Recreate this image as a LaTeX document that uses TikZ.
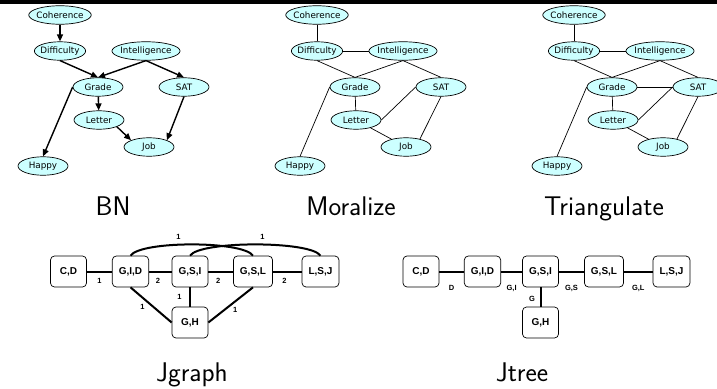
\documentclass[tikz,border=0pt]{standalone}
\usepackage{fontspec}
\usetikzlibrary{shapes.geometric,arrows.meta}

\newfontfamily\bnfont{DejaVu Sans}
\newfontfamily\boxfont{Liberation Sans}
\definecolor{nodecyan}{RGB}{204,255,255}

\tikzset{
  bnvar/.style={ellipse, draw, line width=0.7pt, fill=nodecyan, inner xsep=-1.5pt, inner ysep=0pt,
    minimum width=50pt, minimum height=18.5pt, font=\bnfont\fontsize{8.8}{9}\selectfont},
  bnarc/.style={line width=1.4pt, -{Triangle[length=7pt,width=6pt]}},
  mlink/.style={line width=0.7pt},
  clique/.style={draw, rounded corners=4pt, line width=0.7pt, minimum width=36pt, minimum height=31pt,
    inner xsep=6.5pt, font=\boxfont\bfseries\fontsize{10}{12}\selectfont},
  jlink/.style={line width=2pt},
  wt/.style={font=\boxfont\bfseries\fontsize{7.5}{8}\selectfont, inner sep=1.5pt},
  paneltitle/.style={font=\sffamily\fontsize{27}{30}\selectfont, anchor=base}
}

\begin{document}
\begin{tikzpicture}[x=1pt,y=-1pt]
% Frame
\useasboundingbox (0,0) rectangle (717,388);
\fill[black] (0,0) rectangle (717,3.5);

% Variables, one copy per panel
\foreach \p/\dx in {bn/0,mo/257,tr/514}{
  \node[bnvar] (\p-coh) at (60+\dx,15) {Coherence};
  \node[bnvar] (\p-diff) at (60+\dx,51) {Difficulty};
  \node[bnvar] (\p-int) at (146+\dx,51) {Intelligence};
  \node[bnvar] (\p-grade) at (98+\dx,87) {Grade};
  \node[bnvar] (\p-sat) at (184+\dx,87) {SAT};
  \node[bnvar] (\p-letter) at (99+\dx,120) {Letter};
  \node[bnvar] (\p-job) at (149+\dx,147) {Job};
  \node[bnvar] (\p-happy) at (43+\dx,166) {Happy};
}

% BN arcs
\draw[bnarc] (bn-coh) -- (bn-diff);
\draw[bnarc] (bn-diff.south) -- (bn-grade.north);
\draw[bnarc] (bn-int.south) -- (bn-grade.north);
\draw[bnarc] (bn-int.south) -- (bn-sat.north);
\draw[bnarc] (bn-grade) -- (bn-letter);
\draw[bnarc] (bn-grade.west) -- (bn-happy.north);
\draw[bnarc] (bn-letter.south east) -- (bn-job.north west);
\draw[bnarc] (bn-sat.south) -- (bn-job.north east);

% Moral graph and triangulated graph
\foreach \p in {mo,tr}{
  \draw[mlink] (\p-coh) -- (\p-diff);
  \draw[mlink] (\p-diff) -- (\p-int);
  \draw[mlink] (\p-diff.south) -- (\p-grade.north);
  \draw[mlink] (\p-int.south) -- (\p-grade.north);
  \draw[mlink] (\p-int.south) -- (\p-sat.north);
  \draw[mlink] (\p-grade) -- (\p-letter);
  \draw[mlink] (\p-grade.west) -- (\p-happy.north);
  \draw[mlink] (\p-letter) -- (\p-job);
  \draw[mlink] (\p-letter.east) -- (\p-sat.west);
  \draw[mlink] (\p-sat.south) -- (\p-job.30);
}
\draw[mlink] (tr-grade) -- (tr-sat);

% Titles
\node[paneltitle] (bn-title) at (113,215) {BN};
\node[paneltitle] (mo-title) at (351,215) {Moralize};
\node[paneltitle] (tr-title) at (604,215) {Triangulate};
\node[paneltitle] (jg-title) at (192,381) {Jgraph};
\node[paneltitle] (jt-title) at (522,381) {Jtree};

% Junction graph
\node[clique] (jg-cd) at (68.5,271.5) {C,D};
\node[clique] (jg-gid) at (130.5,271.5) {G,I,D};
\node[clique] (jg-gsi) at (190,271.5) {G,S,I};
\node[clique] (jg-gsl) at (253,271.5) {G,S,L};
\node[clique] (jg-lsj) at (320.5,271.5) {L,S,J};
\node[clique] (jg-gh) at (190,322.5) {G,H};
\draw[jlink] (jg-cd) -- node[wt, below=4.5pt] {1} (jg-gid);
\draw[jlink] (jg-gid) -- node[wt, below=4.5pt, pos=0.4] {2} (jg-gsi);
\draw[jlink] (jg-gsi) -- node[wt, below=4.5pt, pos=0.4] {2} (jg-gsl);
\draw[jlink] (jg-gsl) -- node[wt, below=4.5pt, pos=0.4] {2} (jg-lsj);
\draw[jlink] (jg-gsi) -- node[wt, left=6pt] {1} (jg-gh);
\draw[jlink] (jg-gid.south) -- node[wt, below left, pos=0.4] {1} (jg-gh.west);
\draw[jlink] (jg-gsl.south) -- node[wt, below right] {1} (jg-gh.east);
\draw[jlink] (jg-gid.north) .. controls +(10,-15) and +(-10,-15) .. node[wt, above=2.5pt, pos=0.42] {1} (jg-gsl.north);
\draw[jlink] (jg-gsi.north) .. controls +(10,-15) and +(-10,-15) .. node[wt, above=2.5pt, pos=0.54] {1} (jg-lsj.north);

% Junction tree
\node[clique] (jt-cd) at (421,271.5) {C,D};
\node[clique] (jt-gid) at (482.5,271.5) {G,I,D};
\node[clique] (jt-gsi) at (540.5,271.5) {G,S,I};
\node[clique] (jt-gsl) at (604,271.5) {G,S,L};
\node[clique] (jt-lsj) at (671.5,271.5) {L,S,J};
\node[clique] (jt-gh) at (540.5,322.5) {G,H};
\draw[jlink] (jt-cd) -- node[wt, below=11pt] {D} (jt-gid);
\draw[jlink] (jt-gid) -- node[wt, below=11pt] {G,I} (jt-gsi);
\draw[jlink] (jt-gsi) -- node[wt, below=11pt] {G,S} (jt-gsl);
\draw[jlink] (jt-gsl) -- node[wt, below=11pt] {G,L} (jt-lsj);
\draw[jlink] (jt-gsi) -- node[wt, left=3pt, pos=0.6] {G} (jt-gh);
\end{tikzpicture}
\end{document}
